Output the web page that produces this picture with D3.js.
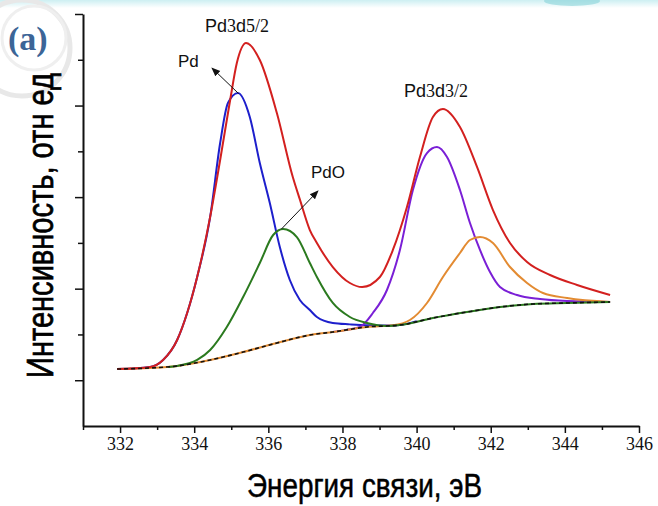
<!DOCTYPE html>
<html>
<head>
<meta charset="utf-8">
<script src="https://cdn.jsdelivr.net/npm/d3@7"></script>
<style>
  html, body { margin: 0; padding: 0; background: #fff; }
  svg { display: block; }
</style>
</head>
<body>
<svg id="chart" width="658" height="506"></svg>
<script>
// XPS Pd 3d spectrum: binding energy (eV) vs intensity (arb. units)

const xTicks = [331, 332, 333, 334, 335, 336, 337, 338, 339, 340, 341, 342, 343, 344, 345, 346];
const xTickLabels = ["332", "334", "336", "338", "340", "342", "344", "346"];
const yTicks = [0, 1, 2, 3, 4, 5, 6, 7, 8, 9];

// Shirley background
const bgE = [331.92, 332.81, 333.54, 334.43, 335.32, 336.23, 337.12, 337.74, 338.66, 339.55, 340.44, 341.36, 342.25, 343.14, 344.06, 345.22];
const bgI = [1.245, 1.267, 1.311, 1.442, 1.616, 1.813, 1.988, 2.053, 2.163, 2.206, 2.359, 2.490, 2.599, 2.665, 2.687, 2.709];

// Envelope (sum)
const envE = [331.92, 332.81, 333.16, 333.54, 333.81, 334.08, 334.43, 334.70, 334.97, 335.15, 335.40, 335.77, 336.23, 336.66, 336.85, 337.12, 337.31, 337.74, 338.20, 338.53, 339.01, 339.36, 339.74, 340.09, 340.44, 340.71, 341.17, 341.63, 342.06, 342.52, 342.98, 343.60, 344.33, 345.22];
const envI = [1.245, 1.289, 1.442, 1.879, 2.468, 3.255, 4.565, 5.810, 7.121, 7.929, 8.366, 7.995, 6.837, 5.439, 4.95, 4.281, 3.997, 3.473, 3.124, 3.036, 3.255, 3.845, 4.784, 5.876, 6.750, 6.924, 6.531, 5.658, 4.718, 3.997, 3.582, 3.298, 3.080, 2.862];

// Pd metal, 3d5/2
const pdE = [331.92, 332.81, 333.16, 333.54, 333.81, 334.08, 334.43, 334.70, 334.91, 335.18, 335.50, 335.77, 336.04, 336.31, 336.58, 336.85, 337.12, 337.31, 337.74, 338.20, 338.66, 339.20, 339.55, 340.00];
const pdI = [1.245, 1.289, 1.442, 1.879, 2.468, 3.255, 4.565, 6.182, 7.055, 7.274, 6.750, 5.745, 4.871, 3.910, 3.189, 2.752, 2.534, 2.381, 2.250, 2.220, 2.200, 2.195, 2.206, 2.290];

// PdO, 3d5/2
const pdoE = [333.30, 333.54, 334.08, 334.43, 334.88, 335.32, 335.77, 336.13, 336.40, 336.77, 337.12, 337.31, 337.74, 338.20, 338.66, 339.20, 339.55, 340.44, 341.36, 342.25, 343.14, 344.06, 345.22];
const pdoI = [1.29, 1.311, 1.442, 1.660, 2.163, 2.818, 3.560, 4.172, 4.303, 4.128, 3.560, 3.255, 2.687, 2.381, 2.250, 2.184, 2.206, 2.359, 2.490, 2.599, 2.665, 2.687, 2.709];

// Pd metal, 3d3/2
const pd32E = [337.74, 338.10, 338.47, 338.82, 339.20, 339.55, 339.90, 340.28, 340.55, 340.82, 341.17, 341.44, 341.71, 341.98, 342.25, 342.71, 343.33, 344.06, 345.22];
const pd32I = [2.053, 2.10, 2.163, 2.468, 2.971, 3.845, 5.155, 5.963, 6.094, 5.876, 5.155, 4.434, 3.845, 3.364, 3.036, 2.862, 2.774, 2.730, 2.709];

// PdO, 3d3/2
const pdo32E = [331.92, 332.81, 333.54, 334.43, 335.32, 336.23, 337.12, 337.74, 338.66, 339.36, 339.82, 340.28, 340.71, 341.17, 341.44, 341.71, 342.06, 342.52, 342.98, 343.41, 344.06, 345.22];
const pdo32I = [1.245, 1.267, 1.311, 1.442, 1.616, 1.813, 1.988, 2.053, 2.163, 2.200, 2.315, 2.687, 3.255, 3.779, 4.063, 4.128, 3.997, 3.473, 3.124, 2.905, 2.796, 2.709];

const svg = d3.select("#chart");
const W = 658, H = 506;

// soft page tint along the top edge
const defs = svg.append("defs");
const g1 = defs.append("linearGradient").attr("id", "topTint").attr("x1", 0).attr("x2", 0).attr("y1", 0).attr("y2", 1);
g1.append("stop").attr("offset", "0%").attr("stop-color", "#cdeff2");
g1.append("stop").attr("offset", "100%").attr("stop-color", "#ffffff");
svg.append("rect").attr("x", 0).attr("y", 0).attr("width", W).attr("height", 8).attr("fill", "url(#topTint)");
svg.append("ellipse").attr("cx", 572).attr("cy", 1).attr("rx", 28).attr("ry", 5).attr("fill", "#7fcfd6").attr("opacity", 0.55);

// faint ring decoration at the upper-left corner
svg.append("circle").attr("cx", 22).attr("cy", 48).attr("r", 48)
  .attr("fill", "none").attr("stroke", "#e8e8e8").attr("stroke-width", 5);
svg.append("circle").attr("cx", 34).attr("cy", 38).attr("r", 32)
  .attr("fill", "none").attr("stroke", "#efefef").attr("stroke-width", 3);

const x = d3.scaleLinear().domain([331, 346]).range([83, 639]);
const y = d3.scaleLinear().domain([0, 9]).range([426, 14]);

// axes
const xAxis = d3.axisBottom(x).tickValues(xTicks)
  .tickSize(0).tickFormat(() => "");
const xg = svg.append("g").attr("transform", `translate(0,${y(0)})`).call(xAxis);
xg.select(".domain").attr("stroke", "#111").attr("stroke-width", 2);
xg.selectAll(".tick line").remove();
xg.selectAll(".tick").append("line")
  .attr("y1", 0).attr("y2", d => (d % 2 === 0 ? 7 : 4))
  .attr("stroke", "#111").attr("stroke-width", 1.5);
xg.selectAll(".tick").filter(d => d % 2 === 0).append("text")
  .attr("y", 24).attr("text-anchor", "middle")
  .attr("fill", "#111")
  .attr("font-family", "Liberation Serif, Times New Roman, serif")
  .style("font-family", "'Liberation Serif', 'Times New Roman', serif")
  .style("font-size", "18px")
  .text(d => xTickLabels[xTickLabels.indexOf(String(d))]);

const yAxis = d3.axisLeft(y).tickValues(yTicks).tickSize(0).tickFormat(() => "");
const yg = svg.append("g").attr("transform", `translate(${x(331)},0)`).call(yAxis);
yg.select(".domain").attr("stroke", "#111").attr("stroke-width", 2);
yg.selectAll(".tick line").remove();
yg.selectAll(".tick").filter(d => d > 0).append("line")
  .attr("x1", 0).attr("x2", d => (d % 2 === 1 ? -8 : -5))
  .attr("stroke", "#111").attr("stroke-width", 1.5);

// spectra
const line = d3.line()
  .x(d => x(d[0])).y(d => y(d[1]))
  .curve(d3.curveMonotoneX);
const zip = (a, b) => a.map((v, i) => [v, b[i]]);

const series = [
  { e: pdE, i: pdI, color: "#1d1fcc" },
  { e: pd32E, i: pd32I, color: "#7a1fd6" },
  { e: pdo32E, i: pdo32I, color: "#e38b32" },
  { e: pdoE, i: pdoI, color: "#2b7a1f" },
  { e: envE, i: envI, color: "#d3201f" }
];
series.forEach(s => {
  svg.append("path").datum(zip(s.e, s.i))
    .attr("d", line).attr("fill", "none")
    .attr("stroke", s.color).attr("stroke-width", 2)
    .attr("stroke-linejoin", "round");
});
svg.append("path").datum(zip(bgE, bgI))
  .attr("d", line).attr("fill", "none")
  .attr("stroke", "#111").attr("stroke-width", 1.6)
  .attr("stroke-dasharray", "4,3");

// arrows to component peaks
defs.append("marker").attr("id", "arrowHead")
  .attr("viewBox", "0 0 10 10").attr("refX", 9).attr("refY", 5)
  .attr("markerWidth", 9).attr("markerHeight", 9)
  .attr("markerUnits", "userSpaceOnUse")
  .attr("orient", "auto")
  .append("path").attr("d", "M0,1 L10,5 L0,9 Z").attr("fill", "#111");

svg.append("line")
  .attr("x1", x(335.20)).attr("y1", y(7.26))
  .attr("x2", 212).attr("y2", 68)
  .attr("stroke", "#111").attr("stroke-width", 1)
  .attr("marker-end", "url(#arrowHead)");
svg.append("line")
  .attr("x1", x(336.35)).attr("y1", y(4.30))
  .attr("x2", 318).attr("y2", 191)
  .attr("stroke", "#111").attr("stroke-width", 1)
  .attr("marker-end", "url(#arrowHead)");

// peak labels
const sans = "'Liberation Sans', Arial, sans-serif";
const serif = "'Liberation Serif', 'Times New Roman', serif";
function peakLabel(px, py, parts) {
  const t = svg.append("text").attr("x", px).attr("y", py)
    .attr("fill", "#111").style("font-size", "18px");
  parts.forEach(p => t.append("tspan").style("font-family", p[1]).text(p[0]));
  return t;
}
peakLabel(205, 32, [["Pd", sans], ["3", serif], ["d", sans], ["5/2", serif]]);
peakLabel(404, 97, [["Pd", sans], ["3", serif], ["d", sans], ["3/2", serif]]);
svg.append("text").attr("x", 178).attr("y", 67)
  .attr("fill", "#111").style("font-family", sans).style("font-size", "17px").text("Pd");
svg.append("text").attr("x", 311).attr("y", 178)
  .attr("fill", "#111").style("font-family", sans).style("font-size", "17px").text("PdO");

// panel letter
svg.append("text").attr("x", 8).attr("y", 50)
  .attr("fill", "#3c6597")
  .style("font-family", serif).style("font-weight", "bold").style("font-size", "34px")
  .text("(a)");

// axis titles
svg.append("text")
  .attr("transform", "translate(53,378) rotate(-90)")
  .attr("x", 0).attr("y", 0)
  .attr("textLength", 305).attr("lengthAdjust", "spacingAndGlyphs")
  .attr("fill", "#000").attr("stroke", "#000").attr("stroke-width", 0.7)
  .style("font-family", sans).style("font-size", "36px")
  .text("Интенсивность, отн ед");
svg.append("text")
  .attr("x", 247).attr("y", 497)
  .attr("textLength", 235).attr("lengthAdjust", "spacingAndGlyphs")
  .attr("fill", "#000").attr("stroke", "#000").attr("stroke-width", 0.5)
  .style("font-family", sans).style("font-size", "33px")
  .text("Энергия связи, эВ");
</script>
</body>
</html>
